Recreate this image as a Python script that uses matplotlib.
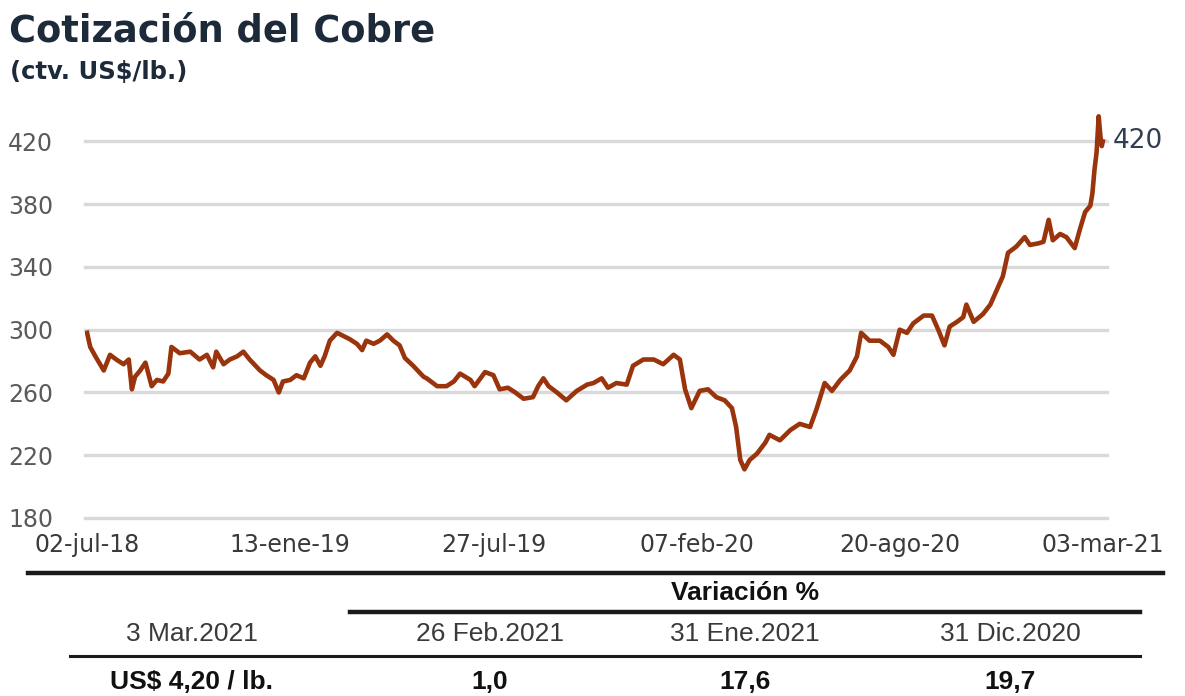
import matplotlib
matplotlib.use("Agg")
import matplotlib.pyplot as plt
from matplotlib import font_manager
from matplotlib.lines import Line2D
import pandas as pd
import numpy as np

# ---------------- data ----------------
START = "2018-07-02"
# days elapsed since START
dias = [0, 3, 8, 16, 22, 28, 35, 40, 43, 46, 51, 56, 62, 67, 73, 78, 81, 89, 99, 108,
        115, 121, 124, 131, 137, 144, 150, 156, 166, 172, 179, 184, 188, 195, 201, 208,
        214, 219, 224, 228, 233, 240, 246, 252, 259, 264, 268, 275, 281, 288, 294, 300,
        305, 313, 323,
        326, 336, 345, 352, 358, 368, 372, 382, 390, 396, 404, 411, 419, 428, 433, 438,
        443, 451, 460, 470, 480, 486, 494, 500, 508, 518, 524, 534, 544, 553, 563, 569,
        574, 580, 588, 596, 604, 612, 619, 623, 627, 631, 636, 643, 651,
        655, 665, 675, 684, 694, 700, 708, 715, 723, 732, 739, 743, 751, 761, 769, 774,
        780, 787, 793, 803, 811, 817, 823, 828, 835, 841, 844, 851, 860, 867, 873, 879,
        884, 892, 900, 905, 913, 918, 923, 927, 934, 940, 948, 953, 958, 963, 965, 967,
        969, 971, 973, 974, 975]
precio = [298, 289, 283, 274, 284, 281, 278, 281, 262, 270, 274, 279, 264, 268, 267, 272,
          289, 285, 286, 281, 284, 276, 286, 278, 281, 283, 286, 281, 274, 271, 268, 260,
          267, 268, 271, 269, 279, 283, 277, 283, 293, 298, 296, 294, 291, 287, 293, 291,
          293, 297, 293, 290, 282, 277, 270,
          269, 264, 264, 267, 272, 268, 264, 273, 271, 262, 263, 260, 256, 257, 264, 269,
          264, 260, 255, 261, 265, 266, 269, 263, 266, 265, 277, 281, 281, 278, 284, 281,
          262, 250, 261, 262, 257, 255, 250, 238, 217, 211, 217, 221, 228,
          233, 229.5, 236, 240, 238, 249, 266, 261, 268, 274, 283, 298, 293, 293, 289, 284,
          300, 298, 304, 309, 309, 300, 290, 302, 305, 308, 316, 305, 310, 316, 325, 334,
          349, 353, 359, 354, 355, 356, 370, 357, 361, 359, 352, 364, 375, 379, 387, 402,
          413, 436, 421, 417, 420]

titulo = "Cotización del Cobre"
subtitulo = "(ctv. US$/lb.)"
y_ticks = [180, 220, 260, 300, 340, 380, 420]
x_tick_fechas = ["2018-07-02", "2019-01-13", "2019-07-27", "2020-02-07", "2020-08-20", "2021-03-03"]
x_tick_labels = ["02-jul-18", "13-ene-19", "27-jul-19", "07-feb-20", "20-ago-20", "03-mar-21"]
etiqueta_final = "420"

tabla_encabezado = "Variación %"
tabla_fechas = ["3 Mar.2021", "26 Feb.2021", "31 Ene.2021", "31 Dic.2020"]
tabla_valores = ["US$ 4,20 / lb.", "1,0", "17,6", "19,7"]

# ---------------- fonts ----------------
avail = {f.name for f in font_manager.fontManager.ttflist}
narrow = "Liberation Sans Narrow" if "Liberation Sans Narrow" in avail else "Liberation Sans"
plt.rcParams["font.family"] = ["DejaVu Sans"]

fechas = pd.Timestamp(START) + pd.to_timedelta(dias, unit="D")

W, H = 1185, 696
fig = plt.figure(figsize=(W / 100, H / 100), dpi=100)
fig.patch.set_facecolor("white")

def fx(px):
    return px / W

def fy(py):
    return 1 - py / H

ax = fig.add_axes([fx(85), fy(518), fx(1107) - fx(85), fy(110) - fy(518)])
ax.plot(fechas, precio, color="#9A340C", lw=3.3, solid_joinstyle="round", zorder=3)

ax.set_ylim(180, 440)
ax.set_yticks(y_ticks)
ax.set_xlim(pd.Timestamp(START) - pd.Timedelta(days=2), fechas[-1] + pd.Timedelta(days=4))
ax.set_xticks(pd.to_datetime(x_tick_fechas))
ax.set_xticklabels(x_tick_labels)
for s in ax.spines.values():
    s.set_visible(False)
ax.grid(axis="y", color="#d9d9d9", lw=2.4)
ax.grid(axis="x", visible=False)
for gl in ax.get_ygridlines():
    gl.set_clip_on(False)
ax.set_axisbelow(True)
ax.tick_params(axis="y", length=0, pad=23, labelsize=17, labelcolor="#5a5a5a")
ax.tick_params(axis="x", length=0, pad=11, labelsize=17, labelcolor="#3a3a3a")

ax.annotate(etiqueta_final, xy=(fechas[-1], precio[-1]), xytext=(7, 0),
            textcoords="offset points", ha="left", va="center",
            fontsize=19, color="#333f50", annotation_clip=False)

# ---------------- titles ----------------
fig.text(fx(9), fy(31), titulo, fontsize=26.5, fontweight="bold", color="#1c2a3a",
         ha="left", va="center")
fig.text(fx(10), fy(72), subtitulo, fontsize=17.5, fontweight="bold", color="#1c2a3a",
         ha="left", va="center")

# ---------------- table ----------------
def hline(x0, x1, y, lw):
    fig.add_artist(Line2D([fx(x0), fx(x1)], [fy(y), fy(y)], color="#1a1a1a", lw=lw,
                          transform=fig.transFigure))

hline(28, 1163, 573, 3.2)
hline(350, 1140, 612, 3.2)
hline(70, 1140, 656, 2.2)

fig.text(fx(745), fy(593), tabla_encabezado, fontsize=19, fontweight="bold",
         family=narrow, color="#111111", ha="center", va="center")
col_x = [192, 490, 745, 1010]
for cx, t in zip(col_x, tabla_fechas):
    fig.text(fx(cx), fy(634), t, fontsize=19, family=narrow, color="#3a3a3a",
             ha="center", va="center")
for cx, t in zip(col_x, tabla_valores):
    fig.text(fx(cx), fy(682), t, fontsize=19, fontweight="bold", family=narrow,
             color="#111111", ha="center", va="center")

fig.savefig("out.png", dpi=100, facecolor="white")
